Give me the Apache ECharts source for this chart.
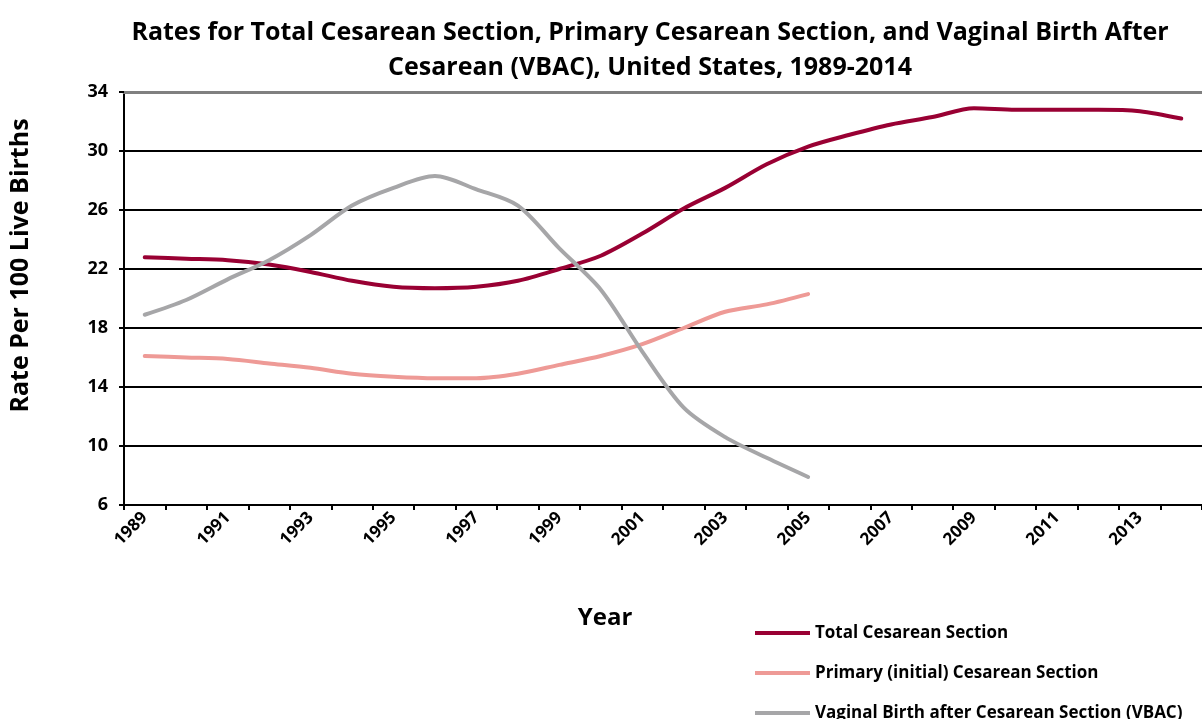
<!DOCTYPE html>
<html>
<head>
<meta charset="utf-8">
<script src="https://cdn.jsdelivr.net/npm/echarts@6/dist/echarts.min.js"></script>
<style>
  html, body { margin: 0; padding: 0; background: #fff; }
  #chart { width: 1202px; height: 719px; }
</style>
</head>
<body>
<div id="chart"></div>
<script>
  // 年份
  var years = ['1989', '1990', '1991', '1992', '1993', '1994', '1995', '1996', '1997', '1998',
    '1999', '2000', '2001', '2002', '2003', '2004', '2005', '2006', '2007', '2008',
    '2009', '2010', '2011', '2012', '2013', '2014'];

  // 剖宫产总率
  var totalCesarean = [22.8, 22.7, 22.6, 22.3, 21.8, 21.2, 20.8, 20.7, 20.8, 21.2,
    22.0, 22.9, 24.4, 26.1, 27.5, 29.1, 30.3, 31.1, 31.8, 32.3,
    32.9, 32.8, 32.8, 32.8, 32.7, 32.2];

  // 首次剖宫产率
  var primaryCesarean = [16.1, 16.0, 15.9, 15.6, 15.3, 14.9, 14.7, 14.6, 14.6, 14.9,
    15.5, 16.1, 16.9, 18.0, 19.1, 19.6, 20.3];

  // VBAC
  var vbac = [18.9, 19.9, 21.3, 22.6, 24.3, 26.3, 27.5, 28.3, 27.4, 26.3,
    23.4, 20.6, 16.4, 12.6, 10.6, 9.2, 7.9];

  // y轴刻度
  var yMin = 6, yMax = 34, yStep = 4;

  var seriesNames = ['Total Cesarean Section', 'Primary (initial) Cesarean Section',
    'Vaginal Birth after Cesarean Section (VBAC)'];
  var seriesColors = ['#990033', '#EE9A96', '#A6A6A8'];

  var font = '"Open Sans", sans-serif';

  var option = {
    backgroundColor: '#fff',
    animation: false,
    color: seriesColors,
    title: [
      {
        text: 'Rates for Total Cesarean Section, Primary Cesarean Section, and Vaginal Birth After\nCesarean (VBAC), United States, 1989-2014',
        left: 645,
        textAlign: 'center',
        top: 10,
        textStyle: { fontFamily: font, fontWeight: 'bold', fontSize: 25, lineHeight: 35, color: '#000' }
      },
      {
        text: 'Year',
        left: 600,
        textAlign: 'center',
        top: 601,
        textStyle: { fontFamily: font, fontWeight: 'bold', fontSize: 24, color: '#000' }
      }
    ],
    legend: {
      orient: 'vertical',
      left: 750,
      top: 618,
      height: 300,
      icon: 'rect',
      itemWidth: 55,
      itemHeight: 4,
      itemGap: 20,
      textStyle: { fontFamily: font, fontWeight: 'bold', fontSize: 17, color: '#000', lineHeight: 20 },
      data: seriesNames
    },
    grid: { left: 124, right: 0, top: 92, bottom: 214 },
    xAxis: [
      {
        type: 'category',
        data: years,
        boundaryGap: true,
        axisLine: { lineStyle: { color: '#000', width: 2 } },
        axisTick: { show: true, interval: 0, length: 5, lineStyle: { color: '#000', width: 2 } },
        axisLabel: {
          interval: 1,
          rotate: 45,
          margin: 10,
          fontFamily: font,
          fontWeight: 'bold',
          fontSize: 17,
          color: '#000'
        }
      },
      {
        type: 'category',
        data: years,
        position: 'top',
        axisLine: { lineStyle: { color: '#808080', width: 3 } },
        axisTick: { show: false },
        axisLabel: { show: false }
      }
    ],
    yAxis: {
      type: 'value',
      min: yMin,
      max: yMax,
      interval: yStep,
      name: 'Rate Per 100 Live Births',
      nameLocation: 'middle',
      nameRotate: 90,
      nameGap: 91,
      nameTextStyle: { fontFamily: font, fontWeight: 'bold', fontSize: 25, color: '#000', padding: [0, 0, 0, 66] },
      axisLine: { show: true, lineStyle: { color: '#000', width: 2 } },
      axisTick: { show: true, length: 5, lineStyle: { color: '#000', width: 2 } },
      axisLabel: { margin: 16, fontFamily: font, fontWeight: 'bold', fontSize: 18, color: '#000' },
      splitLine: { show: true, lineStyle: { color: '#000', width: 2 } }
    },
    series: [
      {
        name: seriesNames[0],
        type: 'line',
        data: totalCesarean,
        smooth: 0.3,
        showSymbol: false,
        lineStyle: { width: 4, cap: 'round' }
      },
      {
        name: seriesNames[1],
        type: 'line',
        data: primaryCesarean,
        smooth: 0.3,
        showSymbol: false,
        lineStyle: { width: 4, cap: 'round' }
      },
      {
        name: seriesNames[2],
        type: 'line',
        data: vbac,
        smooth: 0.3,
        showSymbol: false,
        lineStyle: { width: 4, cap: 'round' }
      }
    ]
  };

  var chart = echarts.init(document.getElementById('chart'));
  chart.setOption(option);
</script>
</body>
</html>
